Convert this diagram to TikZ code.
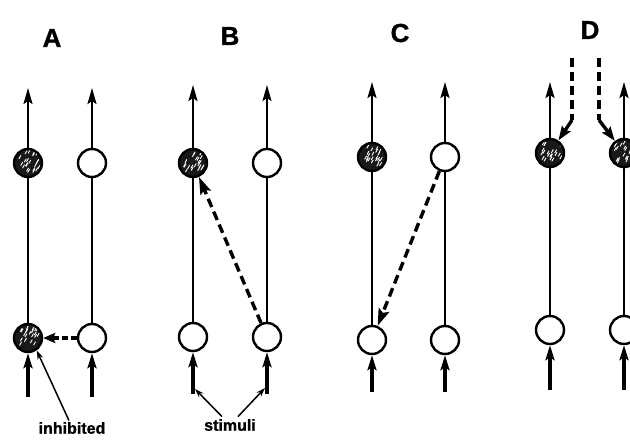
\documentclass[tikz,border=0pt]{standalone}
\usepackage{fontspec}
\setmainfont{Liberation Sans}
\newfontfamily\heavyfont[BoldFeatures={FakeBold=1.2}]{Liberation Sans}
\usetikzlibrary{arrows.meta,calc}
\tikzset{
  cell/.style={circle, draw=black, line width=2.4pt, minimum size=28pt, inner sep=0pt, fill=white},
  inhib/.style={cell, fill=black!90, path picture={
     \pgfmathsetseed{#1}
     \foreach \i in {1,...,22}{
       \pgfmathsetmacro{\dx}{rand*10}
       \pgfmathsetmacro{\dy}{rand*10}
       \pgfmathsetmacro{\ang}{rand*180}
       \draw[white, line width=0.9pt, rotate around={\ang:($(path picture bounding box.center)+(\dx pt,\dy pt)$)}] ($(path picture bounding box.center)+(\dx pt,\dy pt)$) .. controls +(1.2pt,2pt) and +(-1.2pt,-1.5pt) .. +(2pt,3.5pt);
     }}},
  inhib/.default=7,
  axon/.style={line width=2.4pt, -{Stealth[length=16pt,width=9pt,inset=3pt]}},
  fibre/.style={line width=2.6pt},
  input/.style={line width=4pt, -{Stealth[length=15pt,width=9pt,inset=3pt]}},
  dashline/.style={line width=3.4pt, dash pattern=on 9pt off 5pt},
  dasharrow/.style={dashline, -{Stealth[length=17pt,width=11pt,inset=3pt]}},
  pointer/.style={line width=1.5pt, -{Stealth[length=9pt,width=6pt]}},
  panel/.style={font=\heavyfont\bfseries\fontsize{26}{28}\selectfont},
  lab/.style={font=\heavyfont\bfseries\fontsize{16}{18}\selectfont},
}
\begin{document}
\begin{tikzpicture}[x=1pt,y=-1pt]
\useasboundingbox (0,0) rectangle (630,446);
% panel letters
\node[panel] (lA) at (52,38) {A};
\node[panel] (lB) at (230,36) {B};
\node[panel] (lC) at (400,33) {C};
\node[panel] (lD) at (590,30) {D};

% ---------- A ----------
\node[inhib=3] (Atl) at (28,163) {};
\node[cell] (Atr) at (92,163) {};
\node[inhib=11] (Abl) at (28,338) {};
\node[cell] (Abr) at (92,338) {};
\coordinate (Aol) at (28,88); \coordinate (Aor) at (92,88);
\coordinate (Ail) at (28,397); \coordinate (Air) at (92,397);
\draw[axon] (Atl) -- (Aol); \draw[axon] (Atr) -- (Aor);
\draw[fibre] (Abl) -- (Atl); \draw[fibre] (Abr) -- (Atr);
\draw[input] (Ail) -- (Abl); \draw[input] (Air) -- (Abr);
\draw[dashline, dash pattern=on 6pt off 3pt, -{Stealth[length=12pt,width=10pt,inset=2pt]}] (Abr) -- (Abl);
\node[lab] (inh) at (72,428) {inhibited};
\draw[pointer] (inh.north) ++(-3,2) coordinate (inhp) -- (Abl.-55);

% ---------- B ----------
\node[inhib=5] (Btl) at (193,163) {};
\node[cell] (Btr) at (267,163) {};
\node[cell] (Bbl) at (193,337) {};
\node[cell] (Bbr) at (267,337) {};
\coordinate (Bol) at (193,85); \coordinate (Bor) at (267,85);
\coordinate (Bil) at (193,394); \coordinate (Bir) at (267,394);
\draw[axon] (Btl) -- (Bol); \draw[axon] (Btr) -- (Bor);
\draw[fibre] (Bbl) -- (Btl); \draw[fibre] (Bbr) -- (Btr);
\draw[input] (Bil) -- (Bbl); \draw[input] (Bir) -- (Bbr);
\draw[dasharrow] (Bbr) -- (Btl);
\node[lab] (stim) at (230,425) {stimuli};
\coordinate (Bsl) at (195,389); \coordinate (Bsr) at (265,388);
\draw[pointer] ($(stim.north)+(-8,1)$) -- (Bsl);
\draw[pointer] ($(stim.north)+(8,1)$) -- (Bsr);

% ---------- C ----------
\node[inhib=9] (Ctl) at (372,157) {};
\node[cell] (Ctr) at (445,157) {};
\node[cell] (Cbl) at (372,340) {};
\node[cell] (Cbr) at (445,340) {};
\coordinate (Col) at (372,82); \coordinate (Cor) at (445,82);
\coordinate (Cil) at (372,392); \coordinate (Cir) at (445,392);
\draw[axon] (Ctl) -- (Col); \draw[axon] (Ctr) -- (Cor);
\draw[fibre] (Cbl) -- (Ctl); \draw[fibre] (Cbr) -- (Ctr);
\draw[input] (Cil) -- (Cbl); \draw[input] (Cir) -- (Cbr);
\draw[dasharrow] (Ctr) -- (Cbl);

% ---------- D ----------
\node[inhib=13] (Dtl) at (550,153) {};
\node[inhib=17] (Dtr) at (624,153) {};
\node[cell] (Dbl) at (550,330) {};
\node[cell] (Dbr) at (624,330) {};
\coordinate (Dol) at (550,82); \coordinate (Dor) at (624,82);
\coordinate (Dil) at (550,390); \coordinate (Dir) at (624,390);
\draw[axon] (Dtl) -- (Dol); \draw[axon] (Dtr) -- (Dor);
\draw[fibre] (Dbl) -- (Dtl); \draw[fibre] (Dbr) -- (Dtr);
\draw[input] (Dil) -- (Dbl); \draw[input] (Dir) -- (Dbr);
\coordinate (Dd1) at (572,58); \coordinate (Dd1b) at (572,120);
\coordinate (Dd2) at (599,58); \coordinate (Dd2b) at (599,120);
\draw[dashline] (Dd1) -- (Dd1b);
\draw[line width=3.4pt, -{Stealth[length=14pt,width=10pt,inset=2pt]}] (Dd1b) -- (Dtl);
\draw[dashline] (Dd2) -- (Dd2b);
\draw[line width=3.4pt, -{Stealth[length=14pt,width=10pt,inset=2pt]}] (Dd2b) -- (Dtr);
\end{tikzpicture}
\end{document}
